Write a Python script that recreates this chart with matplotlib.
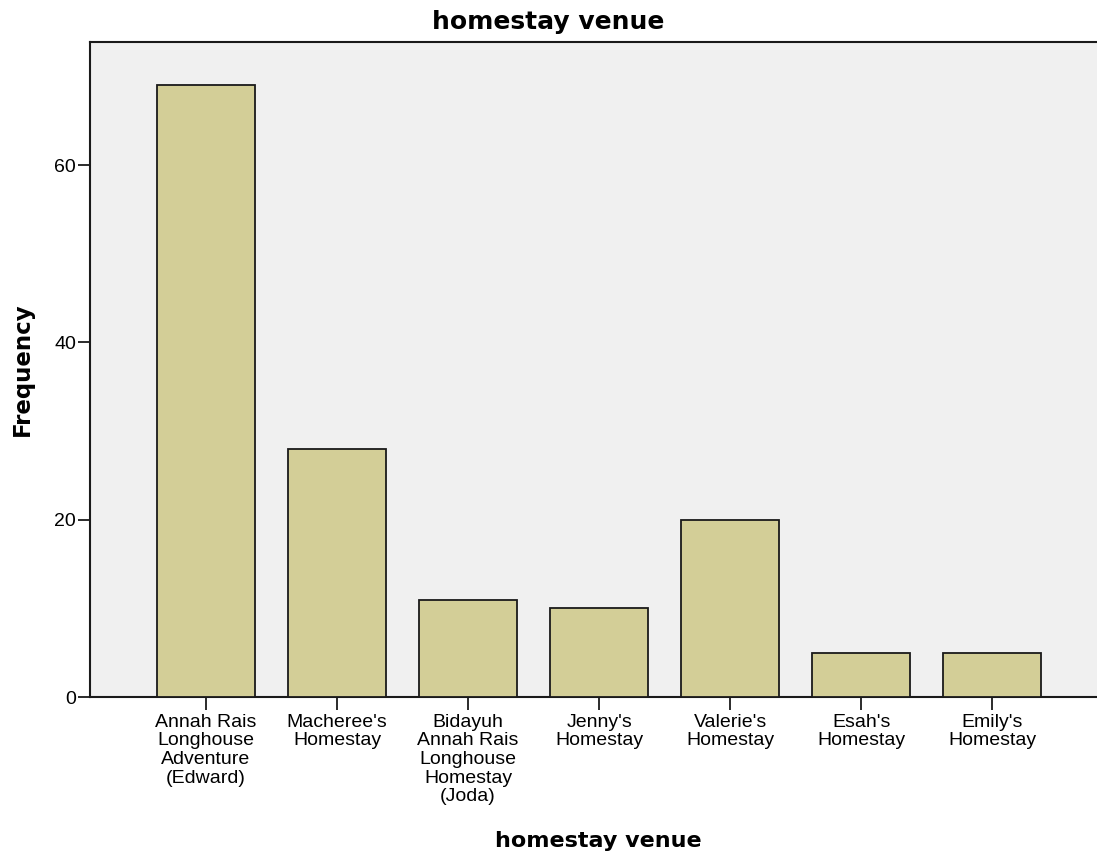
import matplotlib
matplotlib.use("Agg")
import matplotlib.pyplot as plt

categories = [
    "Annah Rais\nLonghouse\nAdventure\n(Edward)",
    "Macheree's\nHomestay",
    "Bidayuh\nAnnah Rais\nLonghouse\nHomestay\n(Joda)",
    "Jenny's\nHomestay",
    "Valerie's\nHomestay",
    "Esah's\nHomestay",
    "Emily's\nHomestay",
]
frequency = [69, 28, 11, 10, 20, 5, 5]
yticks = [0, 20, 40, 60]

fig = plt.figure(figsize=(10.97, 8.57), dpi=100)
ax = fig.add_axes([90/1097, 160/857, 1 - 90/1097, (697-42)/857])
ax.set_facecolor("#F0F0F0")

x = list(range(len(categories)))
ax.bar(x, frequency, width=0.75, color="#D3CE97", edgecolor="#1a1a1a", linewidth=1.3, zorder=3)

ax.set_xlim(-0.885, 6.80)
ax.set_ylim(0, 73.9)
ax.set_yticks(yticks)
ax.set_yticklabels([str(v) for v in yticks])
ax.set_xticks(x)
ax.set_xticklabels(categories, fontfamily="Liberation Sans", fontsize=14, linespacing=1.13)
for lab in ax.get_yticklabels():
    lab.set_fontfamily("Liberation Sans")
    lab.set_fontsize(14)

ax.tick_params(axis="both", direction="out", length=9, width=1.3, color="#1a1a1a", pad=1)
ax.tick_params(axis="x", pad=3)

for side in ["left", "bottom", "top"]:
    ax.spines[side].set_linewidth(1.5)
    ax.spines[side].set_color("#1a1a1a")
ax.spines["right"].set_visible(False)

ax.set_ylabel("Frequency", fontfamily="DejaVu Sans", fontweight="bold", fontsize=16.5)
ax.yaxis.set_label_coords(-0.0555, 0.5)
ax.set_xlabel("homestay venue", fontfamily="DejaVu Sans", fontweight="bold", fontsize=16)
ax.xaxis.set_label_coords(0.505, -0.205)
fig.text(0.5, 1 - 22/857, "homestay venue", ha="center", va="center",
         fontfamily="DejaVu Sans", fontweight="bold", fontsize=18)

fig.savefig("out.png", dpi=100, facecolor="white")
